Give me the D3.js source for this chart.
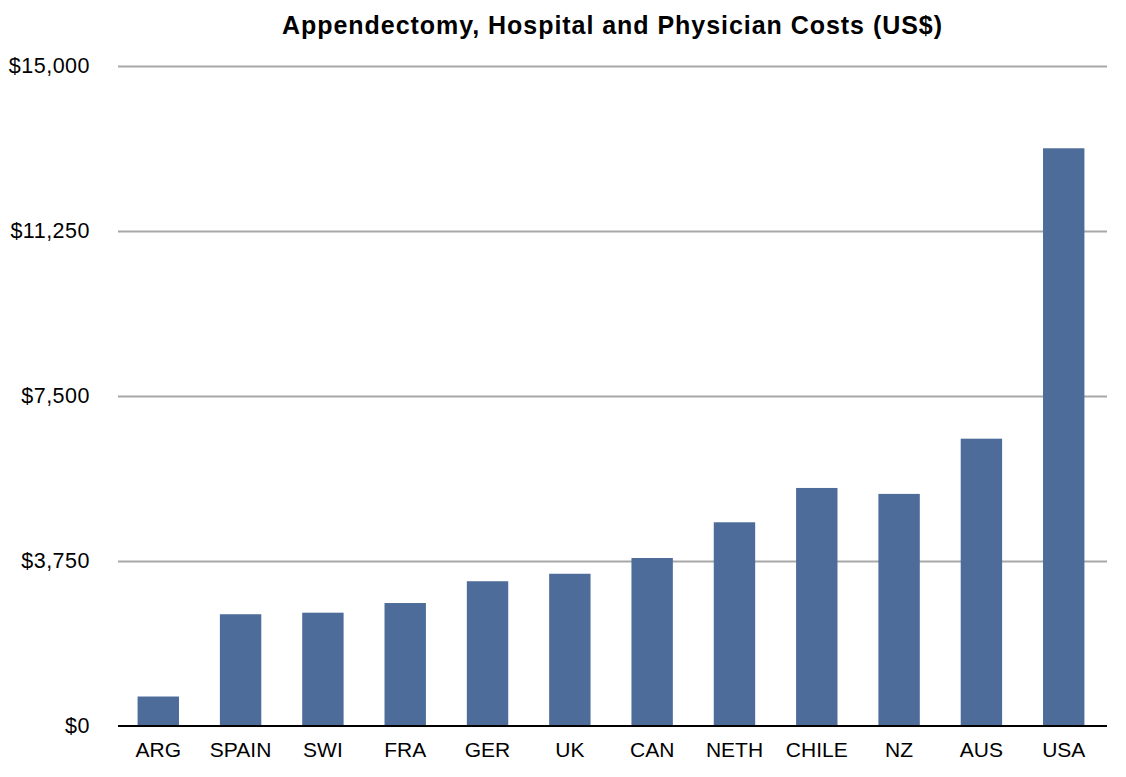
<!DOCTYPE html>
<html>
<head>
<meta charset="utf-8">
<script src="https://cdn.jsdelivr.net/npm/d3@7"></script>
<style>
  html, body { margin: 0; padding: 0; background: #fff; }
  svg { display: block; font-family: "Liberation Sans", Arial, Helvetica, sans-serif; }
</style>
</head>
<body>
<svg id="chart" width="1126" height="777"></svg>
<script>
const categories = ["ARG", "SPAIN", "SWI", "FRA", "GER", "UK", "CAN", "NETH", "CHILE", "NZ", "AUS", "USA"];
const costs = [670, 2540, 2575, 2795, 3290, 3460, 3818, 4630, 5410, 5275, 6530, 13130];
const yTicks = [0, 3750, 7500, 11250, 15000];
const yTickLabels = ["$0", "$3,750", "$7,500", "$11,250", "$15,000"];
const chartTitle = "Appendectomy, Hospital and Physician Costs (US$)";

const svg = d3.select("#chart");
const plotLeft = 118, plotRight = 1107, plotTop = 66, plotBottom = 726;

const x = d3.scaleBand().domain(categories).range([117, 1105]).paddingInner(0.497).paddingOuter(0.25);
const y = d3.scaleLinear().domain([0, 15000]).range([plotBottom, plotTop]);

// gridlines
const yAxis = d3.axisLeft(y).tickValues(yTicks).tickSize(-(plotRight - plotLeft))
  .tickFormat((d, i) => yTickLabels[i]).tickPadding(28);
const gy = svg.append("g").attr("transform", `translate(${plotLeft},0)`).call(yAxis);
gy.select(".domain").remove();
gy.selectAll(".tick line").attr("stroke", "#a8a8a8").attr("stroke-width", 2)
  .filter(d => d === 0).remove();
gy.selectAll(".tick text").attr("font-size", 21.5).attr("fill", "#000")
  .attr("letter-spacing", 0.5)
  .attr("font-family", "Liberation Sans, Arial, sans-serif");

// bars
svg.append("g").selectAll("rect").data(categories).join("rect")
  .attr("x", d => x(d))
  .attr("width", x.bandwidth())
  .attr("y", (d, i) => y(costs[i]))
  .attr("height", (d, i) => y(0) - y(costs[i]))
  .attr("fill", "#4e6c99");

// baseline
const xAxis = d3.axisBottom(x).tickSize(0).tickPadding(16);
const gx = svg.append("g").attr("transform", `translate(0,${plotBottom})`).call(xAxis);
gx.select(".domain").remove();
gx.append("line").attr("x1", plotLeft).attr("x2", plotRight).attr("y1", 0).attr("y2", 0)
  .attr("stroke", "#000").attr("stroke-width", 2);
gx.selectAll(".tick text").attr("font-size", 21).attr("fill", "#000")
  .attr("font-family", "Liberation Sans, Arial, sans-serif");

// title
svg.append("text").attr("x", 612).attr("y", 34).attr("text-anchor", "middle")
  .attr("font-size", 25).attr("font-weight", "bold").attr("fill", "#000")
  .attr("textLength", 660).attr("lengthAdjust", "spacing")
  .text(chartTitle);
</script>
</body>
</html>
